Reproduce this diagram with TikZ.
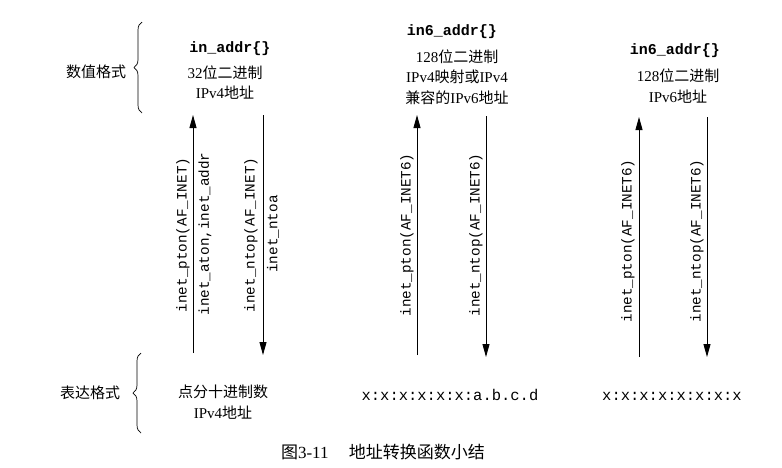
\documentclass[tikz,border=0pt]{standalone}
\usepackage{fontspec}
\setmainfont{Liberation Serif}
\setmonofont{Liberation Mono}
\newfontfamily\cjk{Noto Sans CJK SC}
\newcommand{\zh}[1]{{\cjk #1}}
\usetikzlibrary{arrows.meta, positioning, decorations.pathreplacing}

\tikzset{
  sidelabel/.style={font=\fontsize{15}{19}\selectfont, inner sep=0pt},
  structname/.style={font=\fontsize{15}{19}\selectfont\ttfamily\bfseries, inner sep=0pt},
  desctext/.style={font=\fontsize{15}{20.5}\selectfont, align=center, inner sep=0pt},
  addrtext/.style={font=\fontsize{15.5}{19}\selectfont\ttfamily, inner sep=0pt},
  funclabel/.style={font=\fontsize{14.3}{17}\selectfont\ttfamily, rotate=90, inner sep=0pt},
  convarrow/.style={line width=0.9pt, -{Triangle[length=13pt,width=7pt]}},
  groupbrace/.style={line width=0.7pt, decorate, decoration={brace, amplitude=8pt}}
}

\begin{document}
\begin{tikzpicture}[x=1pt, y=-1pt]
  \useasboundingbox (0,0) rectangle (782,467);

  % format labels and braces
  \node[sidelabel] (numfmt) at (96,72) {\zh{数值格式}};
  \node[sidelabel] (prefmt) at (90,393) {\zh{表达格式}};
  \draw[groupbrace] (142,113) -- (142,22);
  \draw[groupbrace] (141,433) -- (141,353);

  % numeric formats
  \node[structname] (v4struct) at (230,49) {in\_addr\{\}};
  \node[desctext] (v4bin) at (225,82.5) {32\zh{位二进制}\\IPv4\zh{地址}};

  \node[structname] (mapstruct) at (452,32) {in6\_addr\{\}};
  \node[desctext] (mapbin) at (457,77) {128\zh{位二进制}\\IPv4\zh{映射或}IPv4\\\zh{兼容的}IPv6\zh{地址}};

  \node[structname] (v6struct) at (675,51) {in6\_addr\{\}};
  \node[desctext] (v6bin) at (678,86) {128\zh{位二进制}\\IPv6\zh{地址}};

  % presentation formats
  \node[desctext] (v4dotted) at (223,402) {\zh{点分十进制数}\\IPv4\zh{地址}};
  \node[addrtext] (mapaddr) at (450,395) {x:x:x:x:x:x:a.b.c.d};
  \node[addrtext] (v6addr) at (672,396) {x:x:x:x:x:x:x:x};

  % arrow end points
  \coordinate (v4up-s) at (193,353);   \coordinate (v4up-e) at (193,115);
  \coordinate (v4down-s) at (263,115); \coordinate (v4down-e) at (263,355);
  \coordinate (mapup-s) at (417,355);  \coordinate (mapup-e) at (417,115);
  \coordinate (mapdown-s) at (486,116); \coordinate (mapdown-e) at (486,357);
  \coordinate (v6up-s) at (639,357);   \coordinate (v6up-e) at (639,117);
  \coordinate (v6down-s) at (707,117); \coordinate (v6down-e) at (707,357);

  \draw[convarrow] (v4up-s) -- (v4up-e);
  \draw[convarrow] (v4down-s) -- (v4down-e);
  \draw[convarrow] (mapup-s) -- (mapup-e);
  \draw[convarrow] (mapdown-s) -- (mapdown-e);
  \draw[convarrow] (v6up-s) -- (v6up-e);
  \draw[convarrow] (v6down-s) -- (v6down-e);

  % function names
  \node[funclabel] (v4pton) at (183,235) {inet\_pton(AF\_INET)};
  \node[funclabel] (v4aton) at (205,234) {inet\_aton,inet\_addr};
  \node[funclabel] (v4ntop) at (251,235) {inet\_ntop(AF\_INET)};
  \node[funclabel] (v4ntoa) at (273,234) {inet\_ntoa};

  \node[funclabel] (mappton) at (407,235) {inet\_pton(AF\_INET6)};
  \node[funclabel] (mapntop) at (476,235) {inet\_ntop(AF\_INET6)};

  \node[funclabel] (v6pton) at (628,241) {inet\_pton(AF\_INET6)};
  \node[funclabel] (v6ntop) at (697,241) {inet\_ntop(AF\_INET6)};

  % caption
  \node[font=\fontsize{17}{20}\selectfont, inner sep=0pt] (caption) at (383,452) {\zh{图}3-11\hspace{1.2em}\zh{地址转换函数小结}};
\end{tikzpicture}
\end{document}
